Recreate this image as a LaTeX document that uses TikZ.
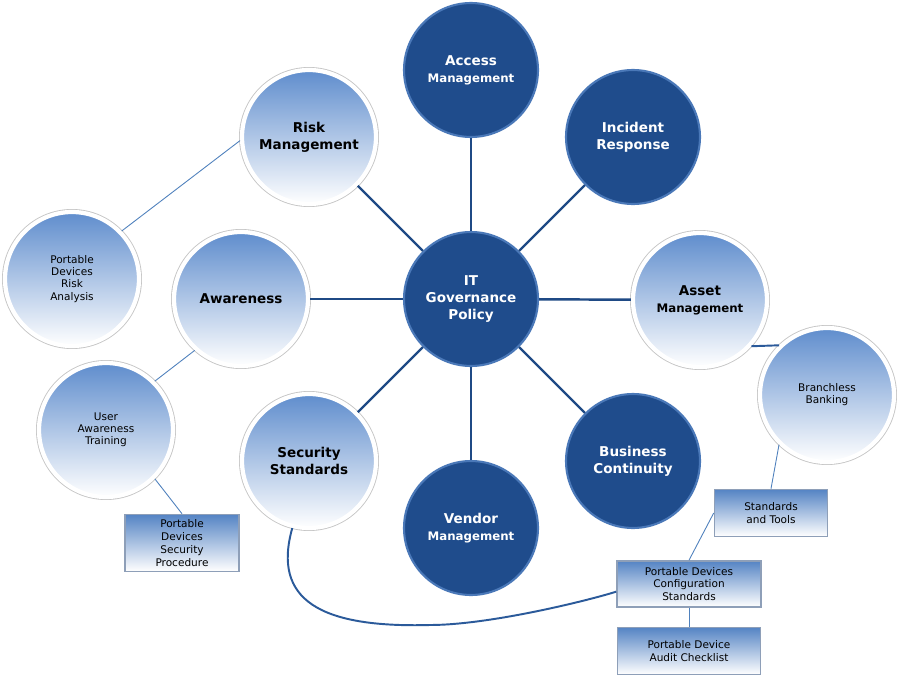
\documentclass[tikz,border=0pt]{standalone}
\usepackage{fontspec}
\setmainfont{DejaVu Sans}
\usepackage{tikz}

\definecolor{ballblue}{HTML}{1F4C8C}
\definecolor{ballrim}{HTML}{4A78B8}
\definecolor{lighttop}{HTML}{5F8DCD}
\definecolor{boxtop}{HTML}{5584C4}
\definecolor{boxedge}{HTML}{8E9FB8}
\definecolor{spoke}{HTML}{1F4A85}
\definecolor{twig}{HTML}{4F81BD}
\definecolor{link}{HTML}{2B5A9A}

\begin{document}
\begin{tikzpicture}[x=0.02cm,y=-0.02cm,
  darkball/.style={circle,minimum size=2.68cm,inner sep=0pt,fill=ballblue,
    draw=ballrim,line width=1.2pt,text=white,align=center,
    font=\bfseries\fontsize{7.7}{9.6}\selectfont},
  lightball/.style={circle,minimum size=2.68cm,inner sep=0pt,
    top color=lighttop,middle color=lighttop!55,bottom color=white,
    preaction={draw=gray!45,line width=3.4pt},draw=white,line width=2.4pt,
    align=center,font=\bfseries\fontsize{7.7}{9.6}\selectfont},
  smallball/.style={lightball,font=\fontsize{6}{6.9}\selectfont},
  tab/.style={rectangle,inner sep=0pt,top color=boxtop,bottom color=white,
    draw=boxedge,line width=0.9pt,
    align=center,font=\fontsize{6}{7}\selectfont},
  spokeline/.style={draw=spoke,line width=1.4pt},
  twigline/.style={draw=twig,line width=0.5pt},
  linkline/.style={draw=link,line width=1.1pt}]
\useasboundingbox (0,0) rectangle (900,700);
\fill[white] (0,0) rectangle (900,700);

% hub and spokes
\node[darkball] (itg) at (471,299) {IT\\Governance\\Policy};
\node[darkball] (acc) at (471,70) {Access\\{\fontsize{6.7}{8}\selectfont Management}};
\node[darkball] (inc) at (633,137) {Incident\\Response};
\node[lightball] (asset) at (700,300) {Asset\\{\fontsize{6.7}{8}\selectfont Management}};
\node[darkball] (bus) at (633,461) {Business\\Continuity};
\node[darkball] (ven) at (471,528) {Vendor\\{\fontsize{6.7}{8}\selectfont Management}};
\node[lightball] (sec) at (309,461) {Security\\Standards};
\node[lightball] (awa) at (241,299) {Awareness};
\node[lightball] (risk) at (309,137) {Risk\\Management};

% outer items
\node[smallball] (pdra) at (72,279) {Portable\\Devices\\Risk\\Analysis};
\node[smallball] (uat) at (106,430) {User\\Awareness\\Training};
\node[smallball] (bra) at (827,395) {Branchless\\Banking};
\node[tab,minimum width=2.28cm,minimum height=1.14cm,font=\fontsize{6}{7.5}\selectfont]
  (pdsp) at (182,543) {Portable\\Devices\\Security\\Procedure};
\node[tab,minimum width=2.26cm,minimum height=0.94cm] (std) at (771,513) {Standards\\and Tools};
\node[tab,minimum width=2.88cm,minimum height=0.92cm] (pdcs) at (689,584)
  {Portable Devices\\Configuration\\Standards};
\node[tab,minimum width=2.86cm,minimum height=0.94cm] (pdac) at (689,651)
  {Portable Device\\Audit Checklist};

\foreach \n in {acc,inc,asset,bus,ven,sec,awa,risk}
  \draw[spokeline] (itg) -- (\n);

\draw[twigline] (risk.183) -- (pdra.44);
\draw[twigline] (awa.228) -- (uat.45);
\draw[twigline] (uat.315) -- (pdsp.north);
\draw[linkline] (asset.318) -- (bra.134);
\draw[twigline] (bra.226) -- (std.north);
\draw[twigline] (std.west) -- (pdcs.north);
\draw[twigline] (pdcs) -- (pdac);
\draw[linkline] (sec.256) .. controls (272,600) and (320,628) .. (430,625)
  .. controls (490,625) and (590,600) .. (pdcs.186);
\end{tikzpicture}
\end{document}
